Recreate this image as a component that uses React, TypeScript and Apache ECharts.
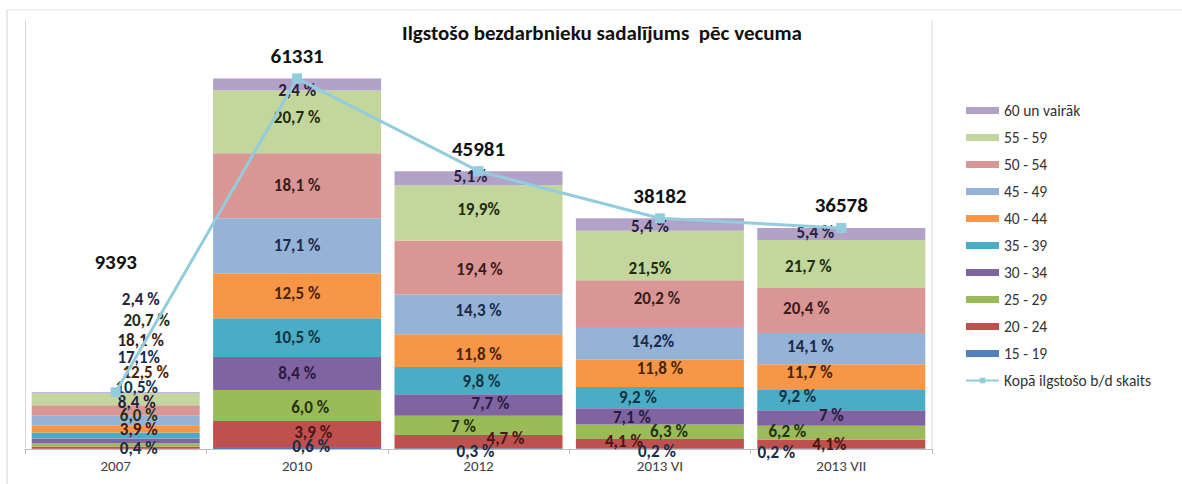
import React, { useEffect, useRef } from "react";
import * as echarts from "echarts";

const categories = ["2007", "2010", "2012", "2013 VI", "2013 VII"];

const seriesNames = ["15 - 19", "20 - 24", "25 - 29", "30 - 34", "35 - 39", "40 - 44", "45 - 49", "50 - 54", "55 - 59", "60 un vairāk"];

// counts per age group (stack order bottom -> top)
const age15_19 = [38, 331, 138, 76, 73];
const age20_24 = [366, 4298, 2161, 1565, 1500];
const age25_29 = [564, 5125, 3219, 2405, 2268];
const age30_34 = [789, 5455, 3541, 2711, 2560];
const age35_39 = [986, 6447, 4506, 3513, 3365];
const age40_44 = [1174, 7439, 5426, 4505, 4280];
const age45_49 = [1606, 9092, 6575, 5422, 5157];
const age50_54 = [1700, 10745, 8920, 7713, 7462];
const age55_59 = [1944, 10414, 9150, 8209, 7937];
const age60plus = [226, 1985, 2345, 2063, 1976];

const totals = [9393, 61331, 45981, 38182, 36578];
const totalName = "Kopā ilgstošo b/d skaits";

// displayed percentage labels
const lbl15_19 = ["0,4 %", "0,6 %", "0,3 %", "0,2 %", "0,2 %"];
const lbl20_24 = ["3,9 %", "3,9 %", "4,7 %", "4,1 %", "4,1%"];
const lbl25_29 = ["6,0 %", "6,0 %", "7 %", "6,3 %", "6,2 %"];
const lbl30_34 = ["8,4 %", "8,4 %", "7,7 %", "7,1 %", "7 %"];
const lbl35_39 = ["10,5%", "10,5 %", "9,8 %", "9,2 %", "9,2 %"];
const lbl40_44 = ["12,5 %", "12,5 %", "11,8 %", "11,8 %", "11,7 %"];
const lbl45_49 = ["17,1%", "17,1 %", "14,3 %", "14,2%", "14,1 %"];
const lbl50_54 = ["18,1 %", "18,1 %", "19,4 %", "20,2 %", "20,4 %"];
const lbl55_59 = ["20,7 %", "20,7 %", "19,9%", "21,5%", "21,7 %"];
const lbl60plus = ["2,4 %", "2,4 %", "5,1%", "5,4 %", "5,4 %"];

const values = [age15_19, age20_24, age25_29, age30_34, age35_39, age40_44, age45_49, age50_54, age55_59, age60plus];
const labels = [lbl15_19, lbl20_24, lbl25_29, lbl30_34, lbl35_39, lbl40_44, lbl45_49, lbl50_54, lbl55_59, lbl60plus];

// styling
const colors = ["#4F81BD", "#C0504D", "#9BBB59", "#8064A2", "#4BACC6", "#F79646", "#95B3D7", "#D99694", "#C3D69B", "#B3A2C7"];
const labelColors = ["#1c2b45", "#4a1614", "#22330e", "#2a1b40", "#0f3544", "#4a2406", "#1c2a4a", "#3a1c1c", "#1f2d12", "#2a2040"];
// label offsets [series][category]
const labelOffsets: number[][][] = [
  [[23, 0], [14, -2], [-3, 3], [-3, 3], [-65, 4]],
  [[23, -18], [16, -2], [27, -3], [-36, -2], [-12, 0]],
  [[23, -29], [13, 2], [-15, 1], [9, 0], [-54, -1]],
  [[21, -38], [0, 0], [12, -1], [-28, 1], [-10, -3]],
  [[21, -48], [0, 0], [3, 1], [-22, 0], [-44, -4]],
  [[30, -56], [0, -2], [0, 4], [0, -5], [-32, -5]],
  [[23, -63], [0, 0], [0, -4], [-7, -2], [-31, -2]],
  [[25, -70], [0, 0], [1, 2], [-3, -5], [-35, -2]],
  [[31, -79], [0, -4], [0, -3], [-10, 13], [-33, 3]],
  [[25, -93], [0, 6], [-8, -2], [-10, 2], [-26, -1]],
];

const FONT = "Carlito, 'Open Sans', 'Liberation Sans', sans-serif";

export default function App() {
  const ref = useRef<HTMLDivElement>(null);
  useEffect(() => {
    if (!ref.current) return;
    const chart = echarts.init(ref.current, null, { renderer: "svg" });
    const barSeries = values.map((arr, si) => ({
      name: seriesNames[si],
      type: "bar",
      stack: "total",
      barWidth: 168,
      itemStyle: { color: colors[si] },
      label: {
        show: true,
        position: "inside",
        fontFamily: FONT,
        fontWeight: "bold",
        fontSize: 17,
        color: labelColors[si],
      },
      z: 2,
      data: arr.map((v, ci) => ({
        value: v,
        label: { formatter: labels[si][ci], offset: labelOffsets[si][ci] },
      })),
    }));
    const option: any = {
      animation: false,
      backgroundColor: "#ffffff",
      title: {
        text: "Ilgstošo bezdarbnieku sadalījums  pēc vecuma",
        left: 597,
        top: 17,
        textAlign: "center",
        textStyle: { fontFamily: FONT, fontWeight: "bold", fontSize: 21, color: "#111" },
      },
      grid: { left: 25, right: 250, top: 20, bottom: 35 },
      legend: {
        orient: "vertical",
        left: 960,
        top: 97,
        itemWidth: 33,
        itemHeight: 7,
        itemGap: 10,
        textStyle: { fontFamily: FONT, fontSize: 15.5, color: "#333", lineHeight: 17 },
        data: [
          ...seriesNames.slice().reverse().map((n) => ({ name: n, icon: "rect" })),
          { name: totalName },
        ],
      },
      xAxis: {
        type: "category",
        data: categories,
        axisLine: { lineStyle: { color: "#BFBFBF" } },
        axisTick: { show: true, length: 5, lineStyle: { color: "#BFBFBF" } },
        axisLabel: { fontFamily: FONT, fontSize: 15, color: "#404040", margin: 9 },
      },
      yAxis: {
        type: "value",
        min: 0,
        max: 71000,
        axisLine: { show: true, lineStyle: { color: "#D9D9D9" } },
        axisTick: { show: false },
        axisLabel: { show: false },
        splitLine: { show: false },
      },
      graphic: [
        { type: "line", shape: { x1: 932, y1: 20, x2: 932, y2: 449 }, style: { stroke: "#D9D9D9", lineWidth: 1 } },
        { type: "line", shape: { x1: 7, y1: 10, x2: 7, y2: 484 }, style: { stroke: "#D0D0D0", lineWidth: 1 } },
        { type: "line", shape: { x1: 7, y1: 10, x2: 1182, y2: 10 }, style: { stroke: "#E0E0E0", lineWidth: 1 } },
      ],
      series: [
        ...barSeries,
        {
          name: totalName,
          type: "line",
          z: 5,
          symbol: "rect",
          symbolSize: 10,
          itemStyle: { color: "#93CDDD" },
          lineStyle: { color: "#93CDDD", width: 3 },
          label: {
            show: true,
            position: "top",
            distance: 7,
            fontFamily: FONT,
            fontWeight: "bold",
            fontSize: 21,
            color: "#111",
          },
          data: totals.map((v, i) => (i === 0 ? { value: v, label: { offset: [0, -108] } } : v)),
        },
      ],
    };
    chart.setOption(option);
    return () => chart.dispose();
  }, []);
  return <div ref={ref} style={{ position: "absolute", left: 0, top: 0, width: 1182, height: 484 }} />;
}
